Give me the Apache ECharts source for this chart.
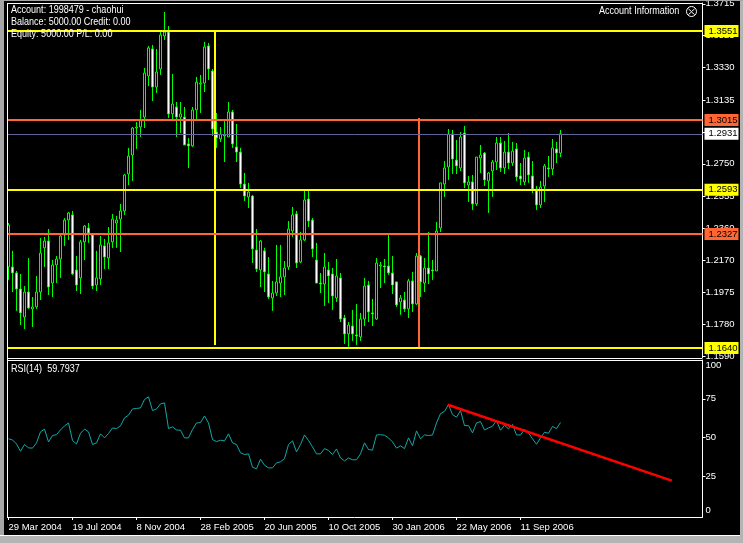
<!DOCTYPE html>
<html><head><meta charset="utf-8">
<style>html,body{margin:0;padding:0;background:#000}#c{width:743px;height:543px}</style>
<script src="https://cdn.jsdelivr.net/npm/echarts@6/dist/echarts.min.js"></script>
</head><body><div id="c"></div>
<script>
const opens=[1.2128,1.2128,1.2092,1.1995,1.1826,1.1977,1.1875,1.1887,1.1977,1.2243,1.2285,1.2031,1.2140,1.2176,1.2321,1.2411,1.2442,1.2110,1.2062,1.2279,
1.2363,1.2321,1.2019,1.2056,1.2255,1.2182,1.2279,1.2393,1.2417,1.2466,1.2689,1.2803,1.2966,1.2972,1.3032,1.3280,1.3443,1.3213,1.3322,1.3521,
1.3545,1.3051,1.3093,1.3032,1.3032,1.2870,1.2858,1.3075,1.3231,1.3237,1.3461,1.3310,1.2942,1.2900,1.2918,1.2912,1.3063,1.2852,1.2821,1.2628,
1.2550,1.2556,1.2231,1.2110,1.2225,1.2086,1.1941,1.1971,1.2031,1.2068,1.2128,1.2345,1.2448,1.2158,1.2291,1.2538,1.2411,1.2170,1.2031,1.2025,
1.2110,1.2086,1.1941,1.2062,1.1820,1.1724,1.1772,1.1718,1.1706,1.1814,1.2019,1.1851,1.1814,1.2134,1.2134,1.2134,1.2092,1.2038,1.1917,1.1929,
1.1875,1.2044,1.1905,1.2194,1.2031,1.2122,1.2110,1.2104,1.2363,1.2628,1.2731,1.2930,1.2773,1.2725,1.2936,1.2622,1.2641,1.2508,1.2785,1.2815,
1.2647,1.2707,1.2761,1.2876,1.2725,1.2821,1.2755,1.2840,1.2677,1.2641,1.2791,1.2677,1.2598,1.2502,1.2616,1.2725,1.2719,1.2840,1.2815];
const closes=[1.2381,1.2092,1.1995,1.1851,1.1977,1.1881,1.1887,1.1977,1.2212,1.2285,1.2007,1.2140,1.2176,1.2315,1.2411,1.2454,1.2086,1.2019,1.2279,1.2375,
1.2333,1.2013,1.2062,1.2261,1.2188,1.2273,1.2417,1.2411,1.2466,1.2683,1.2797,1.2966,1.2972,1.3014,1.3298,1.3449,1.3213,1.3304,1.3527,1.3545,
1.3051,1.3111,1.3032,1.3051,1.2864,1.2858,1.3075,1.3243,1.3237,1.3455,1.3322,1.2960,1.2906,1.2930,1.2924,1.3063,1.2870,1.2821,1.2628,1.2556,
1.2580,1.2237,1.2116,1.2285,1.2098,1.1947,1.1971,1.2038,1.2068,1.2122,1.2357,1.2442,1.2152,1.2291,1.2532,1.2405,1.2237,1.2031,1.2025,1.2128,
1.2074,1.1953,1.2074,1.1814,1.1724,1.1778,1.1724,1.1712,1.1814,1.2013,1.1857,1.1845,1.2152,1.2140,1.2128,1.2092,1.2019,1.1899,1.1941,1.1875,
1.2044,1.1905,1.2194,1.2038,1.2122,1.2086,1.2104,1.2345,1.2635,1.2725,1.2930,1.2779,1.2737,1.2912,1.2635,1.2641,1.2508,1.2791,1.2803,1.2653,
1.2695,1.2761,1.2876,1.2725,1.2821,1.2755,1.2827,1.2671,1.2659,1.2785,1.2683,1.2598,1.2502,1.2610,1.2737,1.2719,1.2846,1.2815,1.2931];
const lows=[1.2050,1.1977,1.1863,1.1778,1.1754,1.1875,1.1766,1.1875,1.1929,1.2128,1.1959,1.1947,1.2031,1.2062,1.2255,1.2291,1.2080,1.1983,1.1965,1.2170,
1.2273,1.1995,1.1983,1.2019,1.2116,1.2116,1.2243,1.2243,1.2218,1.2442,1.2622,1.2647,1.2840,1.2912,1.2966,1.3219,1.3129,1.3177,1.3286,1.3497,
1.3026,1.3020,1.2912,1.2936,1.2864,1.2725,1.2852,1.3020,1.3057,1.3183,1.3256,1.2918,1.2846,1.2882,1.2761,1.2912,1.2846,1.2761,1.2604,1.2526,
1.2484,1.2152,1.2098,1.2007,1.1977,1.1935,1.1863,1.1953,1.1947,1.1959,1.2110,1.2309,1.2122,1.2152,1.2285,1.2369,1.2188,1.2031,1.1971,1.1893,
1.1911,1.1869,1.1917,1.1796,1.1664,1.1646,1.1682,1.1658,1.1682,1.1772,1.1796,1.1772,1.1808,1.2001,1.2031,1.2080,1.1965,1.1887,1.1839,1.1857,
1.1820,1.1857,1.1899,1.1947,1.1977,1.2025,1.2050,1.2104,1.2339,1.2550,1.2653,1.2689,1.2689,1.2707,1.2604,1.2520,1.2472,1.2496,1.2695,1.2616,
1.2454,1.2550,1.2713,1.2701,1.2689,1.2719,1.2737,1.2647,1.2622,1.2622,1.2635,1.2574,1.2472,1.2484,1.2520,1.2671,1.2683,1.2755,1.2791];
const highs=[1.2393,1.2225,1.2104,1.2086,1.2013,1.2182,1.1947,1.2074,1.2303,1.2309,1.2357,1.2170,1.2194,1.2321,1.2423,1.2460,1.2466,1.2194,1.2291,1.2381,
1.2393,1.2327,1.2225,1.2315,1.2297,1.2369,1.2448,1.2436,1.2508,1.2689,1.2846,1.2972,1.3002,1.3075,1.3328,1.3461,1.3467,1.3443,1.3545,1.3666,
1.3581,1.3292,1.3123,1.3123,1.3093,1.2906,1.3093,1.3274,1.3286,1.3485,1.3479,1.3322,1.3057,1.2972,1.3008,1.3123,1.3075,1.2990,1.2846,1.2695,
1.2635,1.2562,1.2357,1.2291,1.2243,1.2188,1.2044,1.2261,1.2261,1.2164,1.2405,1.2490,1.2466,1.2339,1.2592,1.2586,1.2423,1.2273,1.2092,1.2212,
1.2158,1.2122,1.2176,1.2092,1.1839,1.1796,1.1869,1.1905,1.1851,1.2062,1.2044,1.1935,1.2182,1.2158,1.2176,1.2321,1.2194,1.2038,1.1959,1.1977,
1.2056,1.2098,1.2212,1.2200,1.2182,1.2339,1.2170,1.2399,1.2635,1.2767,1.2960,1.2954,1.2894,1.2942,1.2978,1.2677,1.2683,1.2791,1.2864,1.2821,
1.2701,1.2773,1.2912,1.2912,1.2888,1.2936,1.2882,1.2876,1.2755,1.2834,1.2821,1.2767,1.2616,1.2647,1.2749,1.2797,1.2900,1.2882,1.2954];
const rsi=[49.3,48.6,46.0,41.3,45.6,43.5,43.3,46.7,53.8,55.5,47.3,51.4,52.0,55.0,57.6,59.5,48.2,46.0,52.9,55.5,
53.8,45.6,46.7,52.5,49.9,52.7,56.3,55.9,57.6,62.8,64.5,68.5,68.8,69.2,74.6,76.3,67.5,68.5,71.8,72.4,
55.9,57.0,55.0,54.8,49.9,49.9,55.3,59.5,59.8,64.0,59.5,48.8,47.5,48.4,48.0,52.5,46.7,45.6,40.3,39.2,
39.6,31.0,30.0,36.2,32.3,30.6,30.6,33.8,34.5,36.6,45.6,48.0,40.9,45.6,51.8,48.2,44.1,39.6,39.6,43.0,
41.8,39.2,42.8,37.0,35.1,37.0,35.8,35.8,39.6,46.7,42.4,42.0,51.8,52.0,51.6,49.9,47.3,43.3,44.8,43.0,
49.9,44.8,54.4,49.3,51.8,51.4,51.8,59.5,65.5,67.0,71.3,64.9,63.2,67.5,57.8,57.8,53.1,59.5,60.4,55.0,
56.3,57.4,61.0,54.8,58.0,55.7,58.5,51.8,51.8,55.3,53.1,49.3,45.8,49.9,53.5,52.9,57.2,55.9,59.79];
const dateTicks=['29 Mar 2004','19 Jul 2004','8 Nov 2004','28 Feb 2005','20 Jun 2005','10 Oct 2005','30 Jan 2006','22 May 2006','11 Sep 2006'];
const barSlots=174, barsPerTick=16;
const priceTicks=[1.3715,1.3525,1.3330,1.3135,1.2940,1.2750,1.2555,1.2360,1.2170,1.1975,1.1780,1.1590];
const rsiTicks=[0,25,50,75,100];
const yellowLevels=[1.3551,1.2593,1.1640];
const orangeLevels=[1.3015,1.2327];
const lastPrice=[1.2931];
const yellowVertical=[[51.625,1.3551],[51.625,1.1658]];
const orangeVertical=[[102.625,1.3026],[102.625,1.1646]];
const rsiTrend=[[109.8,71.2],[165.8,22.4]];

const categories=Array.from({length:barSlots},(_,i)=>i%barsPerTick===0?(dateTicks[i/barsPerTick]||''):'');
const candles=opens.map((o,i)=>[o,closes[i],lows[i],highs[i]]);
const FONT='Liberation Sans', YEL='#ffff00', ORG='#ff6633', SLATE='#64649c', AX=9.5;
const tag=(bg)=>({show:true,position:'end',distance:2,formatter:p=>p.value.toFixed(4),color:'#000',backgroundColor:bg,
  fontFamily:FONT,fontSize:AX,padding:[1,3,0,4],width:27,height:11,lineHeight:11,align:'left'});
const level=(v,color,width)=>({yAxis:v,lineStyle:{color,width,type:'solid'},label:tag(color===SLATE?'#fff':color)});
const txt=(x,y,t)=>({type:'text',x,y,scaleX:0.86,z:50,silent:true,style:{text:t,fill:'#fff',font:'10.5px "'+FONT+'"',textVerticalAlign:'middle'}});
const r=(x,y,w,h,fill,z)=>({type:'rect',silent:true,z:z||40,shape:{x,y,width:w,height:h},style:{fill}});

const chart=echarts.init(document.getElementById('c'),null,{renderer:'canvas'});
const hiddenCat=(g)=>({type:'category',gridIndex:g,data:categories,show:false,boundaryGap:true});
const hiddenVal=(g)=>({type:'value',gridIndex:g,min:-0.5,max:barSlots-0.5,show:false});
chart.setOption({
 animation:false,backgroundColor:'#000',
 grid:[{left:6.5,top:3,width:696,height:355,outerBoundsMode:'none'},{left:6.5,top:360,width:696,height:157,outerBoundsMode:'none'}],
 xAxis:[hiddenCat(0),hiddenVal(0),
  {type:'category',gridIndex:1,data:categories,boundaryGap:true,
   axisLine:{onZero:false,lineStyle:{color:'#fff',width:1}},
   axisTick:{show:true,interval:(i,v)=>v!=='',alignWithLabel:true,length:3,lineStyle:{color:'#fff'}},
   axisLabel:{interval:barsPerTick-1,align:'left',color:'#fff',fontFamily:FONT,fontSize:AX,margin:5,showMinLabel:true,hideOverlap:false},
   splitLine:{show:false}},
  hiddenVal(1)],
 yAxis:[
  {type:'value',gridIndex:0,position:'right',min:1.1579,max:1.3720,
   axisLine:{show:true,onZero:false,lineStyle:{color:'#fff'}},
   axisTick:{show:true,length:3,lineStyle:{color:'#fff'},customValues:priceTicks},
   axisLabel:{color:'#fff',fontFamily:FONT,fontSize:AX,margin:3,customValues:priceTicks,formatter:v=>v.toFixed(4)},
   splitLine:{show:false}},
  {type:'value',gridIndex:1,position:'right',min:-1,max:100,
   axisLine:{show:true,onZero:false,lineStyle:{color:'#fff'}},
   axisTick:{show:true,length:3,lineStyle:{color:'#fff'},customValues:rsiTicks.slice(1,4)},
   axisLabel:{color:'#fff',fontFamily:FONT,fontSize:AX,margin:3,customValues:rsiTicks,formatter:v=>String(v),
     verticalAlignMinLabel:'bottom',verticalAlignMaxLabel:'top'},
   splitLine:{show:false}}],
 series:[
  {type:'candlestick',xAxisIndex:0,yAxisIndex:0,data:candles,barWidth:2,
   itemStyle:{color:'#000',color0:'#fff',borderColor:'#00ff00',borderColor0:'#00ff00',borderColorDoji:'#00ff00',borderWidth:1},
   markLine:{silent:true,symbol:['none','none'],animation:false,precision:4,z:8,
    data:[...lastPrice.map(v=>level(v,SLATE,1)),...yellowLevels.map(v=>level(v,YEL,2)),...orangeLevels.map(v=>level(v,ORG,2))]}},
  {type:'line',xAxisIndex:1,yAxisIndex:0,data:yellowVertical,symbol:'none',silent:true,z:6,lineStyle:{color:YEL,width:2}},
  {type:'line',xAxisIndex:1,yAxisIndex:0,data:orangeVertical,symbol:'none',silent:true,z:6,lineStyle:{color:ORG,width:2}},
  {type:'line',xAxisIndex:2,yAxisIndex:1,data:rsi,symbol:'none',silent:true,lineStyle:{color:'#10a8a8',width:1}},
  {type:'line',xAxisIndex:3,yAxisIndex:1,data:rsiTrend,symbol:'none',silent:true,z:6,lineStyle:{color:'#ff0000',width:2.5}}
 ],
 graphic:{elements:[
  r(0,0,4,543,'#a6a6a6'),r(4,0,3,543,'#000'),r(7,3,1,515,'#fff'),
  r(7,3,695,1,'#fff'),r(7,358,695,1,'#fff'),r(7,360,695,1,'#fff'),
  r(0,535,743,1,'#fff'),r(0,536,743,7,'#b4b4b4'),r(740,0,3,536,'#b4b4b4'),r(0,0,743,1,'#a6a6a6'),
  txt(11,10,'Account: 1998479 - chaohui'),
  txt(11,22,'Balance: 5000.00 Credit: 0.00'),
  txt(11,34,'Equity: 5000.00 P/L: 0.00'),
  txt(11,369,'RSI(14)  59.7937'),
  txt(599,11.5,'Account Information'),
  {type:'circle',silent:true,z:50,shape:{cx:691.5,cy:11.5,r:5},style:{fill:'none',stroke:'#fff',lineWidth:1}},
  {type:'polyline',silent:true,z:50,shape:{points:[[688.5,9],[691.5,11.5],[694.5,9]]},style:{fill:'none',stroke:'#fff',lineWidth:1}},
  {type:'polyline',silent:true,z:50,shape:{points:[[688.5,14.5],[691.5,12],[694.5,14.5]]},style:{fill:'none',stroke:'#fff',lineWidth:1}}
 ]}
});
</script></body></html>
